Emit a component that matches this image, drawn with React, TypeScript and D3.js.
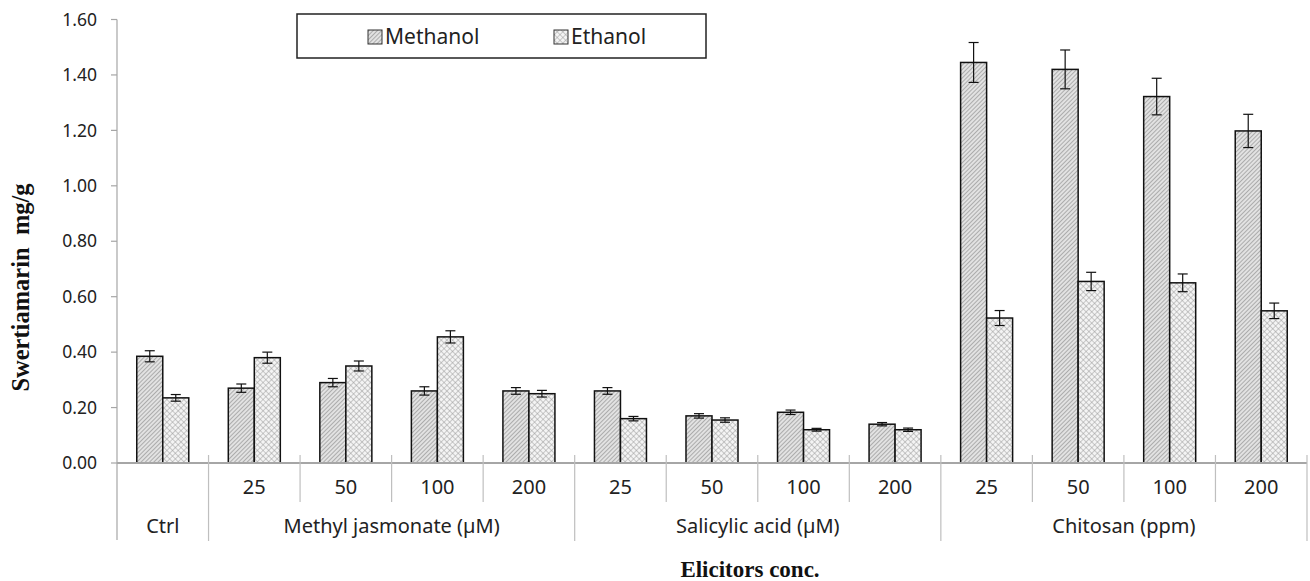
import * as d3 from "d3";

const categories = ["Ctrl", "25", "50", "100", "200", "25", "50", "100", "200", "25", "50", "100", "200"];
const groups = [
  { name: "Ctrl", span: 1 },
  { name: "Methyl jasmonate (µM)", span: 4 },
  { name: "Salicylic acid (µM)", span: 4 },
  { name: "Chitosan (ppm)", span: 4 },
];
const series = ["Methanol", "Ethanol"];
const methanol = [0.385, 0.27, 0.29, 0.26, 0.26, 0.26, 0.17, 0.183, 0.14, 1.445, 1.42, 1.322, 1.198];
const methanolErr = [0.02, 0.015, 0.015, 0.015, 0.012, 0.012, 0.008, 0.008, 0.006, 0.072, 0.07, 0.066, 0.06];
const ethanol = [0.235, 0.38, 0.35, 0.455, 0.25, 0.16, 0.155, 0.12, 0.12, 0.523, 0.655, 0.65, 0.549];
const ethanolErr = [0.012, 0.02, 0.018, 0.022, 0.012, 0.008, 0.008, 0.005, 0.006, 0.027, 0.033, 0.032, 0.028];
const yTicks = [0, 0.2, 0.4, 0.6, 0.8, 1.0, 1.2, 1.4, 1.6];

const W = 1310;
const H = 581;
const left = 117;
const right = 1307;
const top = 19.5;
const base = 463;
const sans = "'Noto Sans', sans-serif";
const serif = "'Liberation Serif', 'Times New Roman', serif";
const axisGrey = "#a6a6a6";

export default function App() {
  const y = d3.scaleLinear().domain([0, 1.6]).range([base, top]);
  const x = d3.scaleBand<number>().domain(d3.range(categories.length)).range([left, right]).padding(0);
  const xs = d3.scaleBand().domain(series).range([0, x.bandwidth()]).paddingInner(0).paddingOuter(0.76);
  const values = [methanol, ethanol];
  const errs = [methanolErr, ethanolErr];
  const fills = ["url(#hatchM)", "url(#hatchE)"];

  // group boundaries (category index where each group starts)
  let acc = 0;
  const groupPos = groups.map((g) => {
    const start = acc;
    acc += g.span;
    return { ...g, start, end: acc };
  });

  return (
    <svg width={W} height={H} style={{ position: "absolute", left: 0, top: 0, background: "#fff" }}>
      <defs>
        <pattern id="hatchM" width="3" height="3" patternUnits="userSpaceOnUse" patternTransform="rotate(45)">
          <rect width="3" height="3" fill="#e2e2e2" />
          <line x1="0" y1="0" x2="0" y2="3" stroke="#888" strokeWidth="1.2" />
        </pattern>
        <pattern id="hatchE" width="4" height="4" patternUnits="userSpaceOnUse" patternTransform="rotate(45)">
          <rect width="4" height="4" fill="#f4f4f4" />
          <line x1="0" y1="0" x2="4" y2="0" stroke="#9a9a9a" strokeWidth="1" />
          <line x1="0" y1="0" x2="0" y2="4" stroke="#9a9a9a" strokeWidth="1" />
        </pattern>
      </defs>

      {/* y axis */}
      <line x1={left} x2={left} y1={top} y2={540} stroke={axisGrey} strokeWidth={1.2} />
      {yTicks.map((t) => (
        <g key={t}>
          <line x1={left - 6} x2={left} y1={y(t)} y2={y(t)} stroke={axisGrey} strokeWidth={1.2} />
          <text x={left - 20} y={y(t)} dy="0.35em" textAnchor="end" fontFamily={sans} fontSize={17.5} fill="#222">
            {t.toFixed(2)}
          </text>
        </g>
      ))}

      {/* bars */}
      {series.map((s, si) =>
        values[si].map((v, i) => {
          const bx = (x(i) ?? 0) + (xs(s) ?? 0);
          const bw = xs.bandwidth();
          const cx = bx + bw / 2;
          const e = errs[si][i];
          return (
            <g key={s + i}>
              <rect x={bx} y={y(v)} width={bw} height={base - y(v)} fill={fills[si]} stroke="#111" strokeWidth={1.5} />
              <line x1={cx} x2={cx} y1={y(v + e)} y2={y(v - e)} stroke="#111" strokeWidth={1.2} />
              <line x1={cx - 5} x2={cx + 5} y1={y(v + e)} y2={y(v + e)} stroke="#111" strokeWidth={1.2} />
              <line x1={cx - 5} x2={cx + 5} y1={y(v - e)} y2={y(v - e)} stroke="#111" strokeWidth={1.2} />
            </g>
          );
        })
      )}

      {/* category axis */}
      <line x1={left} x2={right} y1={base} y2={base} stroke={axisGrey} strokeWidth={2} />
      {d3.range(1, categories.length + 1).map((i) => {
        const xx = i === categories.length ? right : x(i) ?? 0;
        const isGroupEdge = groupPos.some((g) => g.end === i);
        return (
          <line key={i} x1={xx} x2={xx} y1={455} y2={isGroupEdge ? 541 : 502} stroke="#bfbfbf" strokeWidth={1.2} />
        );
      })}
      {categories.map((c, i) =>
        i === 0 ? null : (
          <text key={i} x={(x(i) ?? 0) + x.bandwidth() / 2} y={487} dy="0.35em" textAnchor="middle" fontFamily={sans} fontSize={20} fill="#222">
            {c}
          </text>
        )
      )}
      {groupPos.map((g) => {
        const gx0 = x(g.start) ?? 0;
        const gx1 = g.end === categories.length ? right : x(g.end) ?? 0;
        return (
          <text key={g.name} x={(gx0 + gx1) / 2} y={526} dy="0.35em" textAnchor="middle" fontFamily={sans} fontSize={20} fill="#222">
            {g.name}
          </text>
        );
      })}

      {/* axis titles */}
      <text
        transform={`translate(29,287.5) rotate(-90)`}
        textAnchor="middle"
        fontFamily={serif}
        fontWeight="bold"
        fontSize={24.5}
        fill="#111"
        style={{ whiteSpace: "pre" }}
      >
        {"Swertiamarin  mg/g"}
      </text>
      <text x={750} y={577} textAnchor="middle" fontFamily={serif} fontWeight="bold" fontSize={23} fill="#111">
        Elicitors conc.
      </text>

      {/* legend */}
      <rect x={297} y={14} width={409} height={44} fill="#fff" stroke="#222" strokeWidth={1.5} />
      {series.map((s, si) => {
        const lx = si === 0 ? 368 : 554;
        return (
          <g key={s}>
            <rect x={lx} y={30} width={14} height={14} fill={fills[si]} stroke="#333" strokeWidth={1} />
            <text x={lx + 17} y={37} dy="0.35em" fontFamily={sans} fontSize={21} fill="#222">
              {s}
            </text>
          </g>
        );
      })}
    </svg>
  );
}
